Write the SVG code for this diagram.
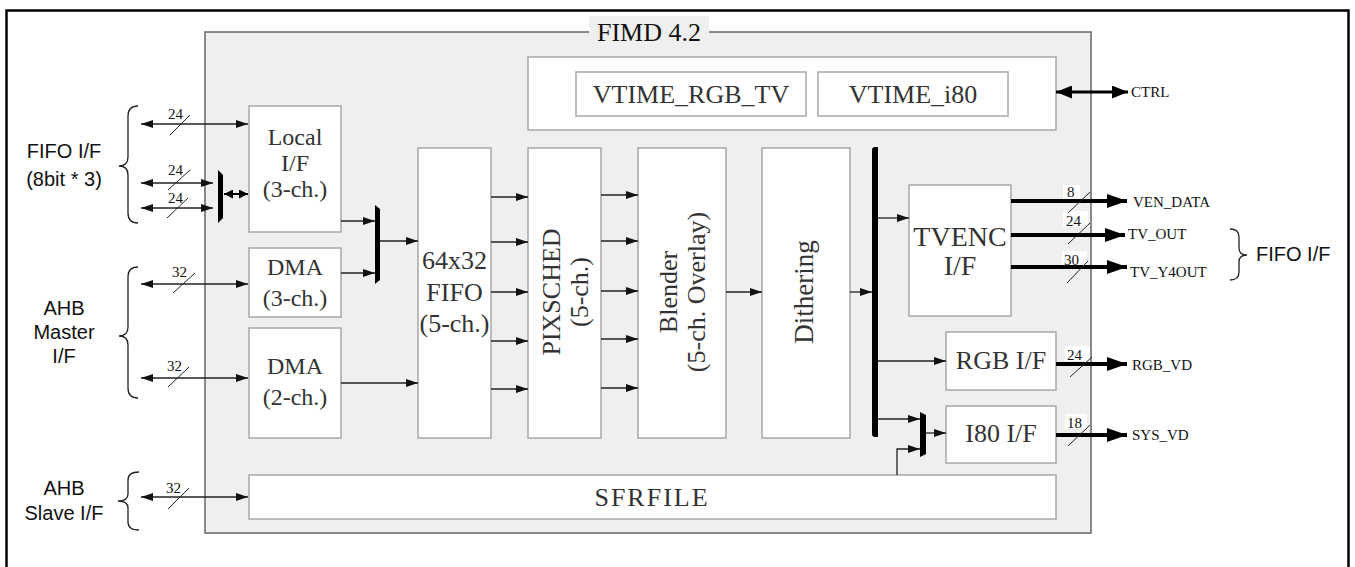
<svg xmlns="http://www.w3.org/2000/svg" width="1355" height="567" viewBox="0 0 1355 567">
<defs>
<style>
.box{fill:#fff;stroke:#a8a8a8;stroke-width:1.5}
.lbl{font-family:"Liberation Serif",serif;font-size:26px;fill:#333;text-anchor:middle}
.sans{font-family:"Liberation Sans",Arial,sans-serif;font-size:20px;fill:#111;text-anchor:middle}
.num{font-family:"Liberation Serif",serif;font-size:15px;fill:#111}
.sig{font-family:"Liberation Serif",serif;font-size:15px;fill:#111}
.thin{stroke:#222;stroke-width:1.3;fill:none}
.thick{stroke:#000;stroke-width:4;fill:none}
.slash{stroke:#222;stroke-width:1;fill:none}
.brace{stroke:#222;stroke-width:1.3;fill:none}
.bar{fill:#000}
</style>
<marker id="ah" markerUnits="userSpaceOnUse" markerWidth="12" markerHeight="8" refX="12" refY="4" orient="auto-start-reverse"><path d="M0,0 L12,4 L0,8 z" fill="#111"/></marker>
<marker id="ahs" markerUnits="userSpaceOnUse" markerWidth="9" markerHeight="9" refX="9" refY="4.5" orient="auto-start-reverse"><path d="M0,0 L9,4.5 L0,9 z" fill="#000"/></marker>
<marker id="ahT" markerUnits="userSpaceOnUse" markerWidth="20" markerHeight="14" refX="20" refY="7" orient="auto-start-reverse"><path d="M0,0 L20,7 L0,14 z" fill="#000"/></marker>
<marker id="ahC" markerUnits="userSpaceOnUse" markerWidth="16" markerHeight="13" refX="16" refY="6.5" orient="auto-start-reverse"><path d="M0,0 L16,6.5 L0,13 z" fill="#000"/></marker>
</defs>
<rect width="1355" height="567" fill="#fff"/>
<path d="M6.5,600 L6.5,10.5 L1348.5,10.5 L1348.5,600" fill="none" stroke="#000" stroke-width="2.5"/>

<g id="fimd">
<rect x="205" y="32" width="886" height="501" fill="#efefef" stroke="#666" stroke-width="1.5"/>
<rect x="589" y="16" width="120" height="30" fill="#efefef"/>
<text x="649" y="41" class="lbl" style="fill:#111">FIMD 4.2</text>
</g>

<g id="vtime">
<rect x="528" y="57" width="528" height="73" class="box"/>
<rect x="576" y="72" width="230" height="44" class="box"/>
<text x="691" y="103" class="lbl">VTIME_RGB_TV</text>
<rect x="818" y="72" width="190" height="44" class="box"/>
<text x="913" y="103" class="lbl">VTIME_i80</text>
</g>

<g id="local">
<rect x="249" y="106" width="92" height="126" class="box"/>
<text class="lbl" style="font-size:24px"><tspan x="295" y="145">Local</tspan><tspan x="295" y="171">I/F</tspan><tspan x="295" y="197">(3-ch.)</tspan></text>
</g>
<g id="dma3">
<rect x="249" y="248" width="92" height="69" class="box"/>
<text class="lbl" style="font-size:24px"><tspan x="295" y="275">DMA</tspan><tspan x="295" y="306">(3-ch.)</tspan></text>
</g>
<g id="dma2">
<rect x="249" y="328" width="92" height="110" class="box"/>
<text class="lbl" style="font-size:24px"><tspan x="295" y="374">DMA</tspan><tspan x="295" y="405">(2-ch.)</tspan></text>
</g>
<g id="fifo">
<rect x="418" y="148" width="73" height="290" class="box"/>
<text class="lbl"><tspan x="454.5" y="269">64x32</tspan><tspan x="454.5" y="301">FIFO</tspan><tspan x="454.5" y="332">(5-ch.)</tspan></text>
</g>
<g id="pixsched">
<rect x="528" y="148" width="73" height="290" class="box"/>
<text class="lbl" transform="translate(564,292) rotate(-90)"><tspan x="0" y="-4">PIXSCHED</tspan><tspan x="0" y="24">(5-ch.)</tspan></text>
</g>
<g id="blender">
<rect x="638" y="148" width="88" height="290" class="box"/>
<text class="lbl" transform="translate(682,292) rotate(-90)"><tspan x="0" y="-5">Blender</tspan><tspan x="0" y="23">(5-ch. Overlay)</tspan></text>
</g>
<g id="dithering">
<rect x="762" y="148" width="88" height="290" class="box"/>
<text class="lbl" transform="translate(806,292) rotate(-90)" style="font-size:27px"><tspan x="0" y="7">Dithering</tspan></text>
</g>
<g id="tvenc">
<rect x="909" y="185" width="102" height="131" class="box"/>
<text class="lbl" style="font-size:28px"><tspan x="960" y="246">TVENC</tspan><tspan x="960" y="275">I/F</tspan></text>
</g>
<g id="rgbif">
<rect x="946" y="332" width="110" height="58" class="box"/>
<text x="1001" y="369" class="lbl">RGB I/F</text>
</g>
<g id="i80if">
<rect x="946" y="406" width="110" height="57" class="box"/>
<text x="1001" y="442" class="lbl">I80 I/F</text>
</g>
<g id="sfrfile">
<rect x="249" y="475" width="807" height="44" class="box"/>
<text x="652" y="506" class="lbl" style="font-size:26px;letter-spacing:2px">SFRFILE</text>
</g>

<g id="muxes">
<polygon class="bar" points="218,170 223,175 223,218 218,223"/>
<polygon class="bar" points="375,205 380,209 380,280 375,284"/>
<path d="M872,150 Q872,147 875,147 L878,147 L878,437 L875,437 Q872,437 872,434 z" class="bar"/>
<polygon class="bar" points="920,412 926,415 926,454 920,457"/>
</g>

<g id="connectors">
<line x1="141" y1="124" x2="248" y2="124" class="thin" marker-start="url(#ah)" marker-end="url(#ah)"/>
<line x1="141" y1="183" x2="213" y2="183" class="thin" marker-start="url(#ah)" marker-end="url(#ah)"/>
<line x1="141" y1="208" x2="213" y2="208" class="thin" marker-start="url(#ah)" marker-end="url(#ah)"/>
<line x1="224" y1="194" x2="248" y2="194" stroke="#000" stroke-width="2" marker-start="url(#ahs)" marker-end="url(#ahs)"/>
<line x1="141" y1="284" x2="248" y2="284" class="thin" marker-start="url(#ah)" marker-end="url(#ah)"/>
<line x1="141" y1="378" x2="248" y2="378" class="thin" marker-start="url(#ah)" marker-end="url(#ah)"/>
<line x1="141" y1="497" x2="248" y2="497" class="thin" marker-start="url(#ah)" marker-end="url(#ah)"/>
<line x1="170" y1="135" x2="190" y2="115" class="slash"/>
<line x1="168" y1="190" x2="190" y2="170" class="slash"/>
<line x1="167" y1="218" x2="188" y2="198" class="slash"/>
<line x1="173" y1="293" x2="195" y2="273" class="slash"/>
<line x1="168" y1="387" x2="189" y2="367" class="slash"/>
<line x1="168" y1="509" x2="189" y2="488" class="slash"/>
<text x="168" y="119" class="num">24</text>
<text x="168" y="175" class="num">24</text>
<text x="168" y="203" class="num">24</text>
<text x="172" y="277" class="num">32</text>
<text x="167" y="371" class="num">32</text>
<text x="166" y="493" class="num">32</text>
<line x1="341" y1="221" x2="375" y2="221" class="thin" marker-end="url(#ah)"/>
<line x1="341" y1="273" x2="375" y2="273" class="thin" marker-end="url(#ah)"/>
<line x1="380" y1="241" x2="418" y2="241" class="thin" marker-end="url(#ah)"/>
<line x1="341" y1="383" x2="418" y2="383" class="thin" marker-end="url(#ah)"/>
<line x1="491" y1="197" x2="528" y2="197" class="thin" marker-end="url(#ah)"/>
<line x1="491" y1="242" x2="528" y2="242" class="thin" marker-end="url(#ah)"/>
<line x1="491" y1="292" x2="528" y2="292" class="thin" marker-end="url(#ah)"/>
<line x1="491" y1="341" x2="528" y2="341" class="thin" marker-end="url(#ah)"/>
<line x1="491" y1="389" x2="528" y2="389" class="thin" marker-end="url(#ah)"/>
<line x1="601" y1="195" x2="638" y2="195" class="thin" marker-end="url(#ah)"/>
<line x1="601" y1="241" x2="638" y2="241" class="thin" marker-end="url(#ah)"/>
<line x1="601" y1="291" x2="638" y2="291" class="thin" marker-end="url(#ah)"/>
<line x1="601" y1="339" x2="638" y2="339" class="thin" marker-end="url(#ah)"/>
<line x1="601" y1="388" x2="638" y2="388" class="thin" marker-end="url(#ah)"/>
<line x1="726" y1="292" x2="762" y2="292" class="thin" marker-end="url(#ah)"/>
<line x1="850" y1="292" x2="872" y2="292" class="thin" marker-end="url(#ah)"/>
<line x1="878" y1="218" x2="909" y2="218" class="thin" marker-end="url(#ah)"/>
<line x1="878" y1="361" x2="946" y2="361" class="thin" marker-end="url(#ah)"/>
<line x1="878" y1="419" x2="920" y2="419" class="thin" marker-end="url(#ah)"/>
<polyline points="897,475 897,449 920,449" class="thin" marker-end="url(#ah)"/>
<line x1="926" y1="433" x2="946" y2="433" class="thin" marker-end="url(#ah)"/>
<line x1="1056" y1="92" x2="1128" y2="92" stroke="#000" stroke-width="3" marker-start="url(#ahC)" marker-end="url(#ahC)"/>
<line x1="1011" y1="201" x2="1127" y2="201" class="thick" marker-end="url(#ahT)"/>
<line x1="1011" y1="235" x2="1125" y2="235" class="thick" marker-end="url(#ahT)"/>
<line x1="1011" y1="267" x2="1127" y2="267" class="thick" marker-end="url(#ahT)"/>
<line x1="1056" y1="364" x2="1127" y2="364" class="thick" marker-end="url(#ahT)"/>
<line x1="1056" y1="435" x2="1127" y2="435" class="thick" marker-end="url(#ahT)"/>
<rect x="1063" y="185" width="17" height="14" fill="#fff"/>
<rect x="1063" y="211" width="25" height="16" fill="#fff"/>
<rect x="1062" y="251" width="25" height="14" fill="#fff"/>
<rect x="1065" y="346" width="25" height="15" fill="#fff"/>
<rect x="1065" y="414" width="22" height="15" fill="#fff"/>
<text x="1067" y="197" class="num">8</text>
<text x="1066" y="226" class="num">24</text>
<text x="1064" y="265" class="num">30</text>
<text x="1067" y="360" class="num">24</text>
<text x="1067" y="428" class="num">18</text>
<line x1="1068" y1="213" x2="1090" y2="192" class="slash"/>
<line x1="1068" y1="244" x2="1090" y2="223" class="slash"/>
<line x1="1067" y1="283" x2="1088" y2="261" class="slash"/>
<line x1="1070" y1="377" x2="1092" y2="357" class="slash"/>
<line x1="1068" y1="446" x2="1090" y2="425" class="slash"/>
</g>

<g id="signals">
<text x="1131" y="97" class="sig">CTRL</text>
<text x="1133" y="207" class="sig">VEN_DATA</text>
<text x="1128" y="239" class="sig">TV_OUT</text>
<text x="1130" y="277" class="sig">TV_Y4OUT</text>
<text x="1132" y="370" class="sig">RGB_VD</text>
<text x="1132" y="440" class="sig">SYS_VD</text>
</g>

<g id="left-labels">
<path class="brace" d="M138,106 Q128,106 128,116 L128,157 Q128,166 119,166 Q128,166 128,175 L128,213 Q128,223 138,223"/>
<text class="sans"><tspan x="64" y="158">FIFO I/F</tspan><tspan x="64" y="186">(8bit * 3)</tspan></text>
<path class="brace" d="M138,267 Q128,267 128,277 L128,327 Q128,336 119,336 Q128,336 128,345 L128,388 Q128,398 138,398"/>
<text class="sans"><tspan x="64" y="315">AHB</tspan><tspan x="64" y="339">Master</tspan><tspan x="64" y="363">I/F</tspan></text>
<path class="brace" d="M139,472 Q128,472 128,480 L128,494 Q128,501 118,501 Q128,501 128,508 L128,522 Q128,530 139,530"/>
<text class="sans"><tspan x="64" y="495">AHB</tspan><tspan x="64" y="520">Slave I/F</tspan></text>
</g>

<g id="right-labels">
<path class="brace" d="M1230,229 Q1239,229 1239,237 L1239,248 Q1239,255 1247,255 Q1239,255 1239,262 L1239,272 Q1239,280 1230,280"/>
<text x="1256" y="261" class="sans" style="text-anchor:start">FIFO I/F</text>
</g>
</svg>
